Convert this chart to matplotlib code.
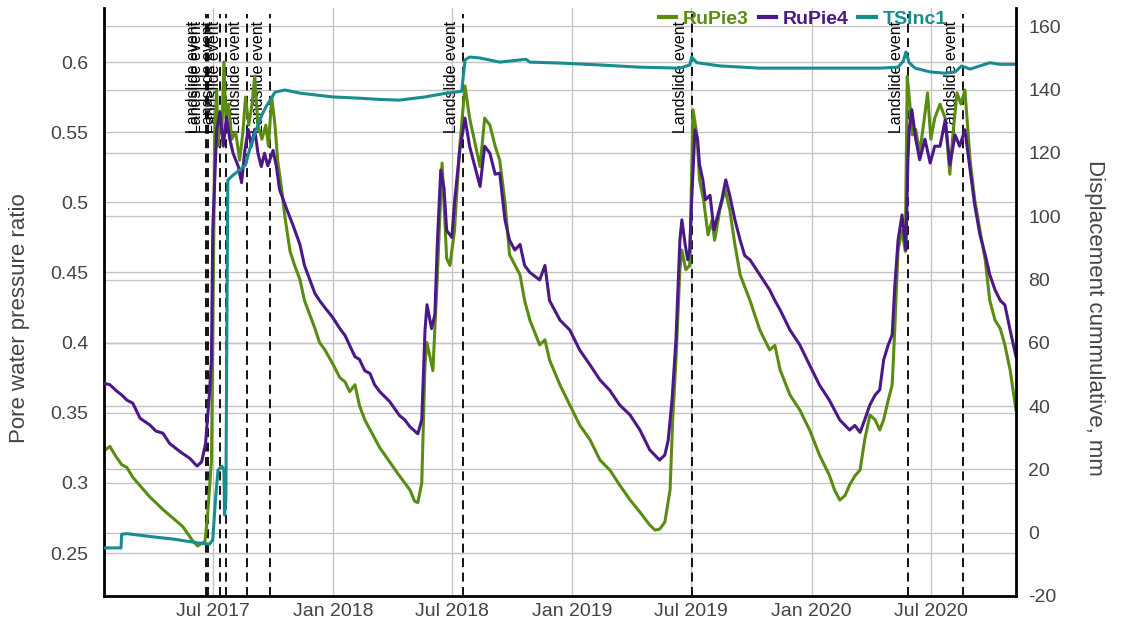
import pandas as pd
import matplotlib.pyplot as plt
import matplotlib.transforms as mtransforms
from matplotlib.ticker import FuncFormatter

plt.rcParams['font.family'] = ['Liberation Sans', 'DejaVu Sans']
plt.rcParams['axes.unicode_minus'] = False

# RuPie3 (left axis)
pie3_dates = [
    '2017-01-16', '2017-01-25', '2017-02-03', '2017-02-12', '2017-02-20', '2017-03-01', '2017-03-12',
    '2017-03-27', '2017-04-05', '2017-04-16', '2017-05-01', '2017-05-16', '2017-05-31', '2017-06-08',
    '2017-06-14', '2017-06-19', '2017-06-23', '2017-06-29', '2017-07-01', '2017-07-04', '2017-07-07',
    '2017-07-09', '2017-07-12', '2017-07-15', '2017-07-18', '2017-07-21', '2017-07-25', '2017-07-30',
    '2017-08-05', '2017-08-11', '2017-08-16', '2017-08-20', '2017-08-25', '2017-08-30', '2017-09-03',
    '2017-09-08', '2017-09-14', '2017-09-20', '2017-09-24', '2017-09-29', '2017-10-04', '2017-10-08',
    '2017-10-14', '2017-10-19', '2017-10-27', '2017-11-03', '2017-11-11', '2017-11-18', '2017-11-26',
    '2017-12-04', '2017-12-11', '2017-12-19', '2017-12-31', '2018-01-11', '2018-01-19', '2018-01-26',
    '2018-02-03', '2018-02-10', '2018-02-18', '2018-02-26', '2018-03-05', '2018-03-13', '2018-03-28',
    '2018-04-12', '2018-04-20', '2018-04-28', '2018-05-05', '2018-05-10', '2018-05-16', '2018-05-21',
    '2018-05-24', '2018-06-02', '2018-06-09', '2018-06-16', '2018-06-23', '2018-06-28', '2018-07-05',
    '2018-07-13', '2018-07-21', '2018-07-28', '2018-08-13', '2018-08-20', '2018-08-28', '2018-09-05',
    '2018-09-12', '2018-09-20', '2018-09-27', '2018-10-13', '2018-10-20', '2018-10-28', '2018-11-12',
    '2018-11-20', '2018-11-27', '2018-12-13', '2018-12-28', '2019-01-12', '2019-01-28', '2019-02-12',
    '2019-02-27', '2019-03-14', '2019-03-30', '2019-04-14', '2019-04-29', '2019-05-07', '2019-05-14',
    '2019-05-22', '2019-05-30', '2019-06-03', '2019-06-08', '2019-06-14', '2019-06-17', '2019-06-23',
    '2019-06-29', '2019-07-04', '2019-07-10', '2019-07-14', '2019-07-20', '2019-07-27', '2019-08-02',
    '2019-08-06', '2019-08-14', '2019-08-22', '2019-08-29', '2019-09-06', '2019-09-14', '2019-09-29',
    '2019-10-14', '2019-10-29', '2019-11-06', '2019-11-14', '2019-11-29', '2019-12-14', '2019-12-29',
    '2020-01-13', '2020-01-28', '2020-02-05', '2020-02-13', '2020-02-21', '2020-02-28', '2020-03-07',
    '2020-03-15', '2020-03-22', '2020-03-30', '2020-04-07', '2020-04-14', '2020-04-20', '2020-04-27',
    '2020-05-03', '2020-05-07', '2020-05-12', '2020-05-18', '2020-05-23', '2020-05-26', '2020-05-30',
    '2020-06-03', '2020-06-08', '2020-06-14', '2020-06-20', '2020-06-26', '2020-07-01', '2020-07-07',
    '2020-07-15', '2020-07-23', '2020-07-30', '2020-08-04', '2020-08-10', '2020-08-16', '2020-08-22',
    '2020-08-30', '2020-09-06', '2020-09-14', '2020-09-22', '2020-09-29', '2020-10-07', '2020-10-15',
    '2020-10-22', '2020-10-30', '2020-11-08']
pie3_vals = [
    0.323, 0.326, 0.319, 0.313, 0.311, 0.304, 0.298,
    0.290, 0.286, 0.281, 0.275, 0.269, 0.259, 0.255,
    0.257, 0.258, 0.276, 0.316, 0.40, 0.55, 0.58,
    0.54, 0.565, 0.55, 0.60, 0.56, 0.57, 0.545,
    0.55, 0.53, 0.55, 0.575, 0.555, 0.57, 0.59,
    0.555, 0.545, 0.555, 0.54, 0.575, 0.555, 0.53,
    0.51, 0.49, 0.465, 0.455, 0.445, 0.43, 0.42,
    0.41, 0.40, 0.395, 0.385, 0.375, 0.372, 0.365,
    0.37, 0.355, 0.345, 0.338, 0.332, 0.325, 0.315,
    0.305, 0.300, 0.295, 0.287, 0.286, 0.30, 0.385,
    0.40, 0.38, 0.45, 0.528, 0.46, 0.455, 0.48,
    0.54, 0.583, 0.56, 0.5255, 0.56, 0.555, 0.54,
    0.53, 0.50, 0.4626, 0.4483, 0.43, 0.416, 0.3984,
    0.402, 0.3877, 0.3698, 0.3556, 0.3413, 0.3306, 0.3163,
    0.3092, 0.2985, 0.2878, 0.2792, 0.27, 0.2664, 0.267,
    0.272, 0.295, 0.3449, 0.3877, 0.4519, 0.466, 0.452,
    0.455, 0.566, 0.548, 0.516, 0.502, 0.4768, 0.487,
    0.473, 0.4947, 0.509, 0.495, 0.4697, 0.4483, 0.43,
    0.409, 0.3948, 0.398, 0.3805, 0.3627, 0.352, 0.3377,
    0.3199, 0.3056, 0.295, 0.2878, 0.291, 0.2985, 0.305,
    0.3092, 0.3306, 0.3484, 0.345, 0.3377, 0.345, 0.3591,
    0.3698, 0.41, 0.466, 0.48, 0.465, 0.59, 0.57,
    0.548, 0.552, 0.535, 0.556, 0.578, 0.545, 0.56,
    0.57, 0.56, 0.52, 0.55, 0.578, 0.57, 0.58,
    0.53, 0.5018, 0.48, 0.459, 0.43, 0.416, 0.41,
    0.3984, 0.3805, 0.352]

# RuPie4 (left axis)
pie4_dates = [
    '2017-01-16', '2017-01-25', '2017-02-03', '2017-02-12', '2017-02-20', '2017-03-01', '2017-03-12',
    '2017-03-27', '2017-04-05', '2017-04-16', '2017-04-26', '2017-05-12', '2017-05-27', '2017-06-07',
    '2017-06-14', '2017-06-20', '2017-06-26', '2017-06-29', '2017-07-01', '2017-07-07', '2017-07-12',
    '2017-07-17', '2017-07-22', '2017-07-27', '2017-08-01', '2017-08-09', '2017-08-14', '2017-08-19',
    '2017-08-24', '2017-08-29', '2017-09-03', '2017-09-08', '2017-09-13', '2017-09-18', '2017-09-23',
    '2017-10-01', '2017-10-06', '2017-10-11', '2017-10-22', '2017-11-01', '2017-11-11', '2017-11-18',
    '2017-11-26', '2017-12-04', '2017-12-11', '2017-12-19', '2017-12-31', '2018-01-11', '2018-01-19',
    '2018-01-26', '2018-02-03', '2018-02-10', '2018-02-18', '2018-02-26', '2018-03-05', '2018-03-13',
    '2018-03-28', '2018-04-12', '2018-04-20', '2018-04-28', '2018-05-10', '2018-05-16', '2018-05-21',
    '2018-05-24', '2018-05-31', '2018-06-05', '2018-06-09', '2018-06-14', '2018-06-19', '2018-06-23',
    '2018-07-01', '2018-07-05', '2018-07-13', '2018-07-21', '2018-07-28', '2018-08-13', '2018-08-20',
    '2018-08-28', '2018-09-05', '2018-09-12', '2018-09-20', '2018-09-27', '2018-10-05', '2018-10-13',
    '2018-10-20', '2018-10-28', '2018-11-12', '2018-11-20', '2018-11-27', '2018-12-13', '2018-12-28',
    '2019-01-12', '2019-01-28', '2019-02-12', '2019-02-27', '2019-03-14', '2019-03-30', '2019-04-14',
    '2019-04-29', '2019-05-14', '2019-05-22', '2019-05-27', '2019-06-02', '2019-06-08', '2019-06-11',
    '2019-06-14', '2019-06-17', '2019-06-22', '2019-06-26', '2019-06-29', '2019-07-02', '2019-07-07',
    '2019-07-11', '2019-07-14', '2019-07-19', '2019-07-23', '2019-07-30', '2019-08-05', '2019-08-11',
    '2019-08-17', '2019-08-23', '2019-08-29', '2019-09-06', '2019-09-14', '2019-09-21', '2019-09-29',
    '2019-10-14', '2019-10-29', '2019-11-06', '2019-11-14', '2019-11-29', '2019-12-14', '2019-12-29',
    '2020-01-13', '2020-01-28', '2020-02-13', '2020-02-28', '2020-03-07', '2020-03-15', '2020-03-22',
    '2020-03-30', '2020-04-07', '2020-04-14', '2020-04-20', '2020-04-27', '2020-05-03', '2020-05-07',
    '2020-05-12', '2020-05-18', '2020-05-24', '2020-05-27', '2020-05-29', '2020-06-02', '2020-06-08',
    '2020-06-14', '2020-06-22', '2020-06-30', '2020-07-07', '2020-07-15', '2020-07-23', '2020-07-30',
    '2020-08-07', '2020-08-14', '2020-08-22', '2020-08-30', '2020-09-06', '2020-09-14', '2020-09-22',
    '2020-09-29', '2020-10-07', '2020-10-15', '2020-10-22', '2020-10-30', '2020-11-08']
pie4_vals = [
    0.371, 0.370, 0.366, 0.3627, 0.359, 0.3568, 0.3461,
    0.3413, 0.337, 0.3354, 0.3282, 0.3223, 0.3175, 0.312,
    0.315, 0.328, 0.364, 0.388, 0.48, 0.552, 0.564,
    0.540, 0.561, 0.545, 0.535, 0.5255, 0.514, 0.537,
    0.552, 0.540, 0.552, 0.535, 0.5255, 0.535, 0.526,
    0.537, 0.526, 0.509, 0.495, 0.483, 0.47, 0.455,
    0.445, 0.435, 0.43, 0.425, 0.418, 0.41, 0.405,
    0.398, 0.39, 0.388, 0.38, 0.378, 0.37, 0.365,
    0.358, 0.348, 0.345, 0.34, 0.335, 0.345, 0.409,
    0.427, 0.41, 0.42, 0.473, 0.523, 0.51, 0.48,
    0.475, 0.50, 0.537, 0.56, 0.54, 0.5113, 0.54,
    0.535, 0.52, 0.5208, 0.4875, 0.473, 0.466, 0.47,
    0.455, 0.45, 0.4447, 0.455, 0.43, 0.416, 0.409,
    0.3948, 0.384, 0.3734, 0.366, 0.3556, 0.3484, 0.3377,
    0.3235, 0.3163, 0.3199, 0.33, 0.359, 0.402, 0.438,
    0.473, 0.4875, 0.47, 0.459, 0.466, 0.5018, 0.5517,
    0.545, 0.5267, 0.516, 0.5018, 0.505, 0.4804, 0.491,
    0.5018, 0.516, 0.505, 0.4875, 0.473, 0.462, 0.459,
    0.4483, 0.4376, 0.43, 0.4233, 0.409, 0.3984, 0.384,
    0.3698, 0.3591, 0.3449, 0.3377, 0.341, 0.336, 0.3449,
    0.3556, 0.3627, 0.3663, 0.3877, 0.3984, 0.4055, 0.44,
    0.473, 0.491, 0.466, 0.53, 0.5517, 0.566, 0.545,
    0.5303, 0.545, 0.528, 0.54, 0.54, 0.5588, 0.5267,
    0.548, 0.54, 0.5517, 0.5232, 0.498, 0.4768, 0.4626,
    0.4483, 0.4376, 0.43, 0.4269, 0.409, 0.39]

# TSInc1 (right axis)
inc_dates = [
    '2017-01-16', '2017-02-11', '2017-02-12', '2017-02-20', '2017-03-27', '2017-05-01', '2017-06-11',
    '2017-06-26', '2017-07-01', '2017-07-05', '2017-07-09', '2017-07-15', '2017-07-18', '2017-07-19',
    '2017-07-21', '2017-07-23', '2017-07-24', '2017-08-01', '2017-08-11', '2017-08-20', '2017-08-26',
    '2017-09-05', '2017-09-14', '2017-09-20', '2017-09-26', '2017-10-04', '2017-10-19', '2017-11-11',
    '2017-12-31', '2018-02-10', '2018-03-13', '2018-04-12', '2018-05-21', '2018-06-23', '2018-07-05',
    '2018-07-16', '2018-07-21', '2018-07-28', '2018-08-13', '2018-09-12', '2018-10-22', '2018-10-28',
    '2018-12-13', '2019-02-12', '2019-04-14', '2019-06-14', '2019-06-29', '2019-07-02', '2019-07-10',
    '2019-07-14', '2019-08-14', '2019-10-14', '2019-12-14', '2020-02-28', '2020-04-14', '2020-05-12',
    '2020-05-20', '2020-05-24', '2020-05-29', '2020-06-07', '2020-06-30', '2020-07-23', '2020-08-07',
    '2020-08-17', '2020-08-30', '2020-09-14', '2020-09-29', '2020-10-15', '2020-11-08']
inc_vals = [
    -4.8, -4.8, -0.5, -0.3, -1.2, -2.0, -3.3,
    -3.6, -2.3, 10, 19.8, 21.0, 19.8, 5.6,
    10.3, 80, 111.4, 113.0, 114.6, 116.2, 120.9,
    127.2, 132.0, 134.5, 136.5, 139.2, 139.9, 138.9,
    137.7, 137.3, 136.9, 136.7, 137.7, 138.9, 139.2,
    139.5, 149.4, 150.3, 150.0, 148.7, 149.6, 148.7,
    148.4, 147.8, 147.1, 146.8, 147.8, 150.3, 148.5,
    148.4, 147.5, 146.8, 146.8, 146.8, 146.8, 147.1,
    149.0, 151.9, 148.5, 146.8, 145.6, 145.2, 145.6,
    147.5, 146.5, 147.5, 148.5, 148.0, 148.0]

event_dates = ['2017-06-20', '2017-06-24', '2017-07-12', '2017-07-21', '2017-08-22',
               '2017-09-26', '2018-07-18', '2019-07-02', '2020-05-27', '2020-08-19']
tick_dates = ['2017-07-01', '2018-01-01', '2018-07-01', '2019-01-01',
              '2019-07-01', '2020-01-01', '2020-07-01']

c3, c4, c5 = '#5a8c14', '#4b1987', '#198c91'
grid_c = '#c4c4c4'
txt_c = '#444444'

fig = plt.figure(figsize=(11.24, 6.39), dpi=100)
ax = fig.add_axes([104 / 1124, 43 / 639, 912 / 1124, 588 / 639])
ax2 = ax.twinx()

ax.set_xlim(pd.Timestamp('2017-01-16'), pd.Timestamp('2020-11-08'))
ax.set_ylim(0.2194, 0.6385)
ax2.set_ylim(-20, 165.8)

ax.set_xticks(pd.to_datetime(tick_dates))
ax.set_xticklabels([d.strftime('%b %Y') for d in pd.to_datetime(tick_dates)])
ax.set_yticks([0.25, 0.3, 0.35, 0.4, 0.45, 0.5, 0.55, 0.6])
ax.yaxis.set_major_formatter(FuncFormatter(lambda v, p: f'{v:g}'))
ax2.set_yticks(range(-20, 161, 20))

ax.grid(True, color=grid_c, lw=1, zorder=0)
ax.set_axisbelow(True)
# right-axis gridlines drawn inside the left axes so they stay below the curves
blend = mtransforms.blended_transform_factory(ax.transAxes, ax2.transData)
for v in ax2.get_yticks():
    ax.plot([0, 1], [v, v], transform=blend, color=grid_c, lw=1, zorder=0.5)

for d in pd.to_datetime(event_dates):
    ax.axvline(d, color='black', lw=1.3, ls=(0, (5, 3)), ymax=0.99, zorder=1)
    ax.annotate('Landslide event', xy=(d, 1), xycoords=('data', 'axes fraction'),
                xytext=(-3, -9), textcoords='offset points', rotation=90,
                ha='right', va='top', fontsize=11.5, color='black', zorder=1)

l3, = ax.plot(pd.to_datetime(pie3_dates), pie3_vals, color=c3, lw=2.2, zorder=2)
l4, = ax.plot(pd.to_datetime(pie4_dates), pie4_vals, color=c4, lw=2.2, zorder=3)
l5, = ax2.plot(pd.to_datetime(inc_dates), inc_vals, color=c5, lw=2.2)

for a in (ax, ax2):
    a.tick_params(length=0, labelsize=14, labelcolor=txt_c)
ax.tick_params(axis='y', pad=11)
ax.tick_params(axis='x', pad=5)
ax2.tick_params(axis='y', pad=9)

ax.spines['top'].set_visible(False)
ax.spines['right'].set_visible(False)
for s in ('top', 'left', 'bottom'):
    ax2.spines[s].set_visible(False)
for s in (ax.spines['left'], ax.spines['bottom'], ax2.spines['right']):
    s.set_linewidth(2)
    s.set_color('black')

ax.set_ylabel('Pore water pressure ratio', fontsize=16, color=txt_c)
ax.yaxis.set_label_coords(-0.081, 0.473)
ax2.set_ylabel('Displacement cummulative, mm', fontsize=16, color=txt_c, rotation=270)
ax2.yaxis.set_label_coords(1.098, 0.473)

leg = fig.legend([l3, l4, l5], ['RuPie3', 'RuPie4', 'TSInc1'], loc='center right',
                 bbox_to_anchor=(947 / 1124, 1 - 19 / 639), ncol=3, frameon=False,
                 prop={'weight': 'bold', 'size': 14}, handlelength=0.9,
                 handletextpad=0.35, columnspacing=0.5, borderpad=0, borderaxespad=0)
for t, c in zip(leg.get_texts(), (c3, c4, c5)):
    t.set_color(c)
for h in leg.legend_handles:
    h.set_linewidth(3)

fig.savefig('out.png', dpi=100)
